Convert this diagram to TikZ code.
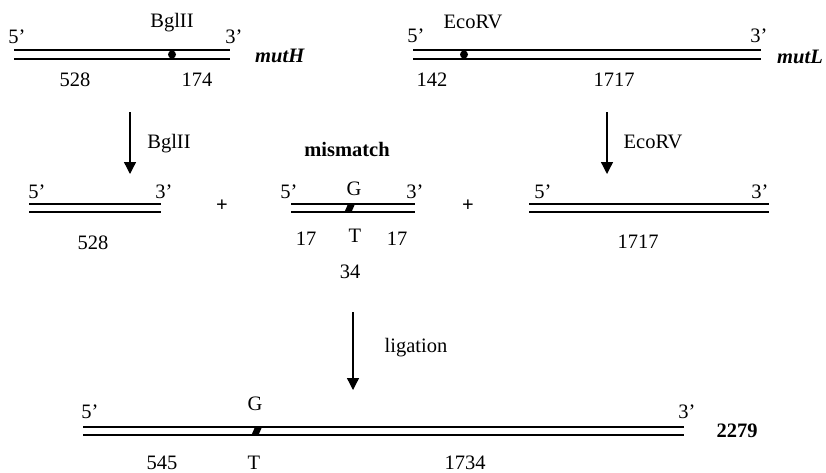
\documentclass[tikz,border=0pt]{standalone}
\usepackage{fontspec}
\setmainfont{Liberation Serif}
\usetikzlibrary{arrows.meta}
\begin{document}
\begin{tikzpicture}[x=1pt,y=-1pt,
  lbl/.style={inner sep=0pt, anchor=base, font=\fontsize{20.5}{24}\selectfont},
  bolbl/.style={lbl, font=\fontsize{20.5}{24}\selectfont\bfseries},
  gene/.style={inner sep=0pt, anchor=base west, font=\fontsize{20.5}{24}\selectfont\bfseries\itshape},
  plus/.style={inner sep=0pt, anchor=center, font=\fontsize{20.5}{24}\selectfont\bfseries},
  strand/.style={line width=1.3pt},
  cutarrow/.style={-{Triangle[length=12pt,width=12pt]}, line width=1.3pt},
  site/.style={circle, fill=black, inner sep=0pt, minimum size=8pt},
  mispair/.style={fill=black}
]
\useasboundingbox (0,0) rectangle (826,472);

% ---- mutH fragment with BglII site ----
\draw[strand] (14,50) -- (230,50) (14,59) -- (230,59);
\node[site] (bgl) at (172,54.5) {};
\node[lbl] (bglname) at (172,27) {BglII};
\node[lbl] (h5) at (17,43) {5’};
\node[lbl] (h3) at (234,43) {3’};
\node[lbl] (h528) at (75,86) {528};
\node[lbl] (h174) at (197,86) {174};
\node[gene] (mutH) at (255,62) {mutH};

% ---- mutL fragment with EcoRV site ----
\draw[strand] (413,50) -- (761,50) (413,59) -- (761,59);
\node[site] (eco) at (464,54.5) {};
\node[lbl] (econame) at (473,28) {EcoRV};
\node[lbl] (l5) at (416,42) {5’};
\node[lbl] (l3) at (759,42) {3’};
\node[lbl] (l142) at (432,86) {142};
\node[lbl] (l1717) at (614,86) {1717};
\node[gene, anchor=base east] (mutL) at (823,63) {mutL};

% ---- digestion arrows ----
\coordinate (aL1) at (130,112);
\coordinate (aL2) at (130,174);
\draw[cutarrow] (aL1) -- (aL2);
\node[lbl] (dBgl) at (169,148) {BglII};
\coordinate (aR1) at (607,112);
\coordinate (aR2) at (607,174);
\draw[cutarrow] (aR1) -- (aR2);
\node[lbl] (dEco) at (653,148) {EcoRV};
\node[bolbl] (mm) at (347,156) {mismatch};

% ---- middle row: 528 + 34 + 1717 ----
\draw[strand] (29,204) -- (161,204) (29,212) -- (161,212);
\node[lbl] (a5) at (37,198) {5’};
\node[lbl] (a3) at (164,198) {3’};
\node[lbl] (a528) at (93,249) {528};

\node[plus] (p1) at (222,206) {+};

\draw[strand] (291,204) -- (415,204) (291,212) -- (415,212);
\fill[mispair] (348,204) -- (355,204) -- (351.5,212) -- (344.5,212) -- cycle;
\node[lbl] (b5) at (289,198) {5’};
\node[lbl] (b3) at (415,198) {3’};
\node[lbl] (bG) at (354,195) {G};
\node[lbl] (bT) at (355,242) {T};
\node[lbl] (b17a) at (306,245) {17};
\node[lbl] (b17b) at (397,245) {17};
\node[lbl] (b34) at (350,278) {34};

\node[plus] (p2) at (468,206) {+};

\draw[strand] (529,204) -- (769,204) (529,212) -- (769,212);
\node[lbl] (c5) at (543,198) {5’};
\node[lbl] (c3) at (760,198) {3’};
\node[lbl] (c1717) at (638,248) {1717};

% ---- ligation ----
\coordinate (aB1) at (353,312);
\coordinate (aB2) at (353,390);
\draw[cutarrow] (aB1) -- (aB2);
\node[lbl] (lig) at (416,352) {ligation};

% ---- ligated product ----
\draw[strand] (83,427) -- (684,427) (83,435) -- (684,435);
\fill[mispair] (255,427) -- (262,427) -- (258.5,435) -- (251.5,435) -- cycle;
\node[lbl] (d5) at (90,418) {5’};
\node[lbl] (d3) at (687,418) {3’};
\node[lbl] (dG) at (255,410) {G};
\node[lbl] (dT) at (254,469) {T};
\node[lbl] (d545) at (162,469) {545};
\node[lbl] (d1734) at (465,469) {1734};
\node[bolbl] (total) at (737,437) {2279};
\end{tikzpicture}
\end{document}
